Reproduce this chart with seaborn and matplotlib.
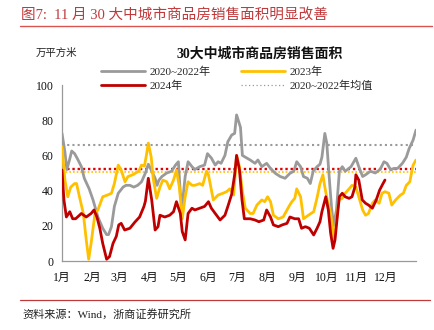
import matplotlib
matplotlib.use("Agg")
import matplotlib.pyplot as plt
from matplotlib.lines import Line2D
import numpy as np
import pandas as pd
import seaborn as sns

# ---- data: day of year -> 7-day average sales area (10k m²) ----
days_2020_22 = [0, 3, 5, 8, 10, 13, 16, 20, 23, 28, 32, 37, 42, 46, 48, 51, 54, 58, 63, 66,
                70, 74, 78, 82, 86, 89, 92, 96, 98, 100, 103, 108, 113, 117, 120, 122, 124,
                127, 130, 134, 137, 142, 147, 150, 154, 158, 161, 164, 168, 171, 175, 178,
                180, 184, 186, 189, 194, 199, 202, 206, 211, 215, 220, 225, 230, 235, 239,
                242, 246, 249, 253, 256, 259, 263, 266, 268, 271, 273, 276, 278, 280, 283,
                286, 289, 292, 298, 303, 306, 310, 313, 318, 323, 328, 332, 335, 339, 342,
                346, 351, 355, 358, 362, 365]
vals_2020_22 = [72.5, 62, 52, 58, 62.5, 61, 58, 53.6, 47, 41, 34.7, 25, 18.6, 15, 15, 19.5, 31,
                38.5, 42, 43, 43, 42, 43, 45, 50, 55, 51.7, 47, 43, 46, 48, 50, 51, 54.5, 56.4,
                38.5, 32, 48, 56.4, 53.6, 52, 53.6, 54.5, 61, 58.5, 54.5, 56.4, 55.5, 60, 67.8,
                71.6, 72.5, 83, 76, 60, 59, 57.4, 55.5, 57.4, 53.6, 55.5, 52.6, 49.8, 48, 47,
                49.8, 51, 56.4, 53.6, 48, 47, 44, 51, 53.6, 55, 59, 72.5, 67, 44, 30, 20, 29,
                51, 53.6, 51, 53.6, 58.4, 53.6, 48, 49, 51, 50, 52, 56.4, 55.5, 51.7, 52.6,
                52.6, 55.5, 59, 64, 68.7, 74.4]

days_2023 = [0, 3, 6, 9, 13, 15, 18, 22, 25, 27.5, 30, 34, 37, 42, 47, 51, 54, 58, 61, 65, 68,
             73, 79, 82, 85, 87, 89, 92, 94, 97.6, 101, 104, 108, 111, 115, 118, 121, 124, 127,
             130, 134, 137, 142, 145, 149, 151, 156, 161, 166, 170, 173, 177, 180, 183, 186,
             189, 194, 197, 201, 206, 209, 212, 215, 218, 223, 228, 234, 237, 240, 242, 246,
             249, 254, 259.5, 263, 266, 269, 271, 273.5, 277, 280.5, 283, 285.5, 289, 292, 296,
             299, 303, 306, 310, 313, 316, 320, 323, 327, 330, 333, 337, 340, 344, 349, 352,
             355, 358.6, 362, 365]
vals_2023 = [65, 46, 36.5, 42, 44, 44, 36.5, 27, 12, 1, 10, 27, 29, 36.5, 37.5, 38.5, 44, 54.5,
             51.7, 45, 48, 49, 51, 54.5, 54, 60, 67, 59, 47, 35.6, 42, 46, 45, 41, 46, 51.7, 42,
             24, 36.5, 45, 43, 43, 44, 43, 51, 49, 34.7, 37.5, 38.5, 39.5, 41, 37.5, 60, 53.6,
             39.4, 30, 27, 27, 31.8, 34.7, 33.7, 36.5, 33.7, 26, 24, 25, 31, 33.7, 35.6, 41,
             36.5, 24, 26, 28, 36, 44, 49, 42, 34.7, 27, 12, 23, 34.7, 35.6, 38.5, 41, 43, 42,
             36.5, 29, 26, 27, 32.8, 34.7, 32.8, 38.5, 39.4, 38.5, 31.8, 34.7, 37.5, 38.5, 43,
             45, 54.5, 57.4]

days_2024 = [0, 2, 4.5, 8, 11, 14, 20, 25, 30, 33, 36, 39, 42, 46, 49, 52.6, 56, 58.5, 61, 64.6,
             70, 75, 80, 84.5, 86, 89, 92.5, 96, 99, 101, 106, 111, 115, 118, 122, 124, 127,
             130, 134, 137, 142, 147, 151, 154, 158, 163, 168, 171, 175, 178, 180, 183, 185.6,
             188, 194, 199, 203, 208, 211, 215, 218, 223, 227, 232, 235, 240, 244, 247, 251,
             255, 259.5, 263, 266, 268, 272, 274.6, 277, 279.5, 281.5, 284, 286, 289, 292, 296,
             299, 302, 303, 306, 309.6, 313, 316, 320, 324, 327.5, 331, 333]
vals_2024 = [51.7, 34.7, 25, 28, 24, 24, 27, 25, 27, 29, 25, 18.6, 10, 1, 2.5, 10, 14, 20.5, 21.4,
             17.6, 18.6, 22, 25, 31, 34, 47, 34.7, 17.6, 19.5, 26, 25, 26, 28, 33.7, 27, 16.7,
             12, 27, 30, 29, 30, 31, 33.7, 30, 27, 23.3, 26, 31, 38, 49, 60, 51.7, 34.7, 24,
             24, 23.3, 22.3, 23.3, 29, 25, 20.5, 19.5, 20.5, 21.4, 25, 24, 24, 18.6, 19.5, 18.6,
             14.8, 18.6, 22.3, 28, 36.5, 29, 15.7, 7.2, 12, 26, 36.5, 38.5, 36.5, 35.6, 36.5,
             42, 49, 46, 34.7, 32.8, 31.8, 30, 34.7, 40.3, 44, 46]

avg_2020_22 = 66.0
avg_2024 = 52.0
avg_2023 = 50.5

month_starts = [0, 31, 59, 90, 120, 151, 181, 212, 243, 273, 304, 334, 365]
month_labels = ["1月", "2月", "3月", "4月", "5月", "6月", "7月", "8月", "9月", "10月",
                "11月", "12月", ""]

series_names = ["2020~2022年", "2023年", "2024年"]
colors = {"2020~2022年": "#9A9A9A", "2023年": "#FFC000", "2024年": "#C00000"}

df = pd.concat([
    pd.DataFrame({"day": days_2020_22, "value": vals_2020_22, "series": series_names[0]}),
    pd.DataFrame({"day": days_2023, "value": vals_2023, "series": series_names[1]}),
    pd.DataFrame({"day": days_2024, "value": vals_2024, "series": series_names[2]}),
])

sns.set_style("white")
plt.rcParams["font.family"] = ["Liberation Serif", "Noto Sans CJK SC"]
plt.rcParams["axes.unicode_minus"] = False

W, H = 434, 330
fig = plt.figure(figsize=(W / 100, H / 100), dpi=100)
ax = fig.add_axes([62 / W, 69 / H, 354 / W, 176 / H])

for i, name in enumerate(series_names):
    sns.lineplot(data=df[df["series"] == name], x="day", y="value", ax=ax,
                 color=colors[name], linewidth=2.0, zorder=3 + i, legend=False,
                 estimator=None, sort=False)

ax.axhline(avg_2020_22, color="#9A9A9A", linestyle=(0, (1, 1.5)), linewidth=1.5, zorder=2)
ax.axhline(avg_2024, color="#E00000", linestyle=(0, (1, 1.2)), linewidth=1.7, zorder=2)
ax.axhline(avg_2023, color="#FFC000", linestyle=(0, (1, 1.2)), linewidth=1.2, zorder=2)

ax.set_xlim(0, 365)
ax.set_ylim(0, 100)
ax.set_xticks(month_starts)
ax.set_xticklabels(month_labels)
ax.set_yticks([0, 20, 40, 60, 80, 100])
ax.set_xlabel("")
ax.set_ylabel("")
for side in ["top", "right"]:
    ax.spines[side].set_visible(False)
for side in ["left", "bottom"]:
    ax.spines[side].set_color("#999999")
    ax.spines[side].set_linewidth(0.9)
ax.tick_params(axis="both", direction="out", length=3, width=0.9, color="#999999",
               labelsize=8.5, labelcolor="#111111")
ax.tick_params(axis="x", pad=5)
ax.tick_params(axis="y", pad=3)
ax.patch.set_alpha(0)

# legend
handles = [
    Line2D([], [], color=colors["2020~2022年"], linewidth=2.0),
    Line2D([], [], color=colors["2024年"], linewidth=2.0),
    Line2D([], [], color=colors["2023年"], linewidth=2.0),
    Line2D([], [], color="#9A9A9A", linestyle=(0, (1, 2)), linewidth=0.9),
]
labels = ["2020~2022年", "2024年", "2023年", "2020~2022年均值"]
fig.legend(handles, labels, ncol=2, loc="upper left", bbox_to_anchor=(95 / W, 1 - 61 / H),
           frameon=False, fontsize=8, borderpad=0, handlelength=4.0, handletextpad=0.4,
           columnspacing=2.7, labelspacing=0.3)

# headings and notes
fig.text(260 / W, 1 - 54 / H, "30大中城市商品房销售面积", ha="center", va="center",
         fontsize=10, fontweight="bold", color="#111111")
fig.text(36 / W, 1 - 53 / H, "万平方米", ha="left", va="center", fontsize=7.5,
         color="#222222")
fig.text(21 / W, 1 - 15 / H, "图7:  11 月 30 大中城市商品房销售面积明显改善", ha="left",
         va="center", fontsize=10.5, color="#C0393B")
fig.add_artist(Line2D([20 / W, 432 / W], [1 - 25.5 / H, 1 - 25.5 / H], color="#D9534F",
                      linewidth=1.0, transform=fig.transFigure))
fig.add_artist(Line2D([20 / W, 430 / W], [1 - 300 / H, 1 - 300 / H], color="#C0393B",
                      linewidth=0.9, transform=fig.transFigure))
fig.text(22 / W, 1 - 314 / H, "资料来源：Wind，浙商证券研究所", ha="left", va="center",
         fontsize=8, color="#222222")

fig.savefig("out.png", dpi=100, facecolor="white")
